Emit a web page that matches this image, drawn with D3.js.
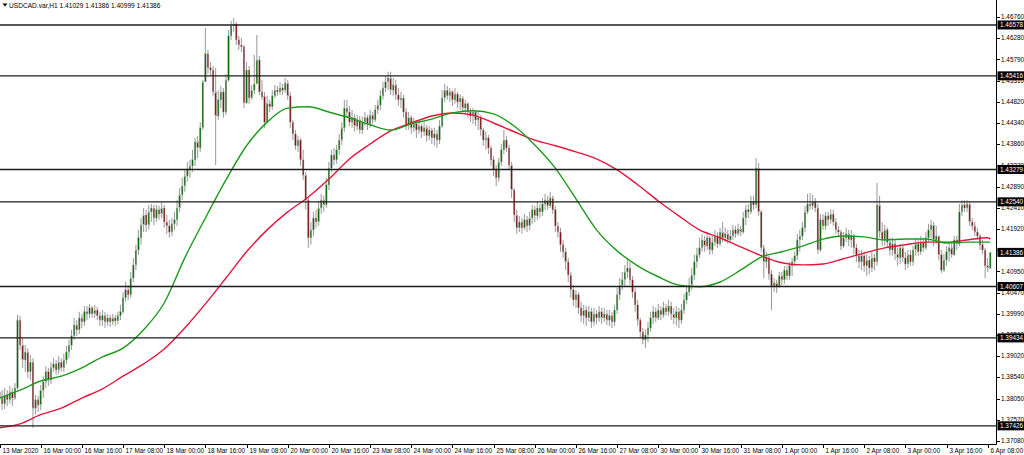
<!DOCTYPE html>
<html><head><meta charset="utf-8">
<script src="https://cdn.jsdelivr.net/npm/d3@7"></script>
<style>body{margin:0;background:#fff}svg{display:block}</style>
</head><body>
<svg id="c" width="1024" height="455"></svg>
<script>
const symbolTitle = "USDCAD.var,H1  1.41029 1.41386 1.40999 1.41386";
const timeLabels = ["13 Mar 2020","16 Mar 00:00","16 Mar 16:00","17 Mar 08:00","18 Mar 00:00","18 Mar 16:00","19 Mar 08:00","20 Mar 00:00","20 Mar 16:00","23 Mar 08:00","24 Mar 00:00","24 Mar 16:00","25 Mar 08:00","26 Mar 00:00","26 Mar 16:00","27 Mar 08:00","30 Mar 00:00","30 Mar 16:00","31 Mar 08:00","1 Apr 00:00","1 Apr 16:00","2 Apr 08:00","3 Apr 00:00","3 Apr 16:00","6 Apr 08:00"];
const barsPerLabel = 16;
const priceTicks = ["1.46760","1.46280","1.45790","1.45310","1.44820","1.44340","1.43860","1.43370","1.42890","1.42410","1.41920","1.41440","1.40950","1.40470","1.39990","1.39500","1.39020","1.38540","1.38050","1.37570","1.37080"];
const levels = [1.46578,1.45416,1.43279,1.42540,1.40607,1.39434,1.37426];
const lastPrice = 1.41386;
const firstOpen = 1.3820;
const closes = [
1.3806,1.3793,1.3813,1.3802,1.3820,1.3806,1.3829,1.3984,1.3927,1.3893,
1.3911,1.3866,1.3888,1.3783,1.3802,1.3790,1.3824,1.3843,1.3866,1.3847,
1.3875,1.3884,1.3870,1.3888,1.3875,1.3893,1.3911,1.3927,1.3948,1.3973,
1.3962,1.3989,1.3980,1.4003,1.3998,1.4012,1.3998,1.4007,1.3994,1.3984,
1.3994,1.3980,1.3989,1.3980,1.3989,1.3982,1.3994,1.4003,1.4035,1.4053,
1.4042,1.4080,1.4110,1.4144,1.4172,1.4201,1.4224,1.4201,1.4231,1.4240,
1.4217,1.4236,1.4226,1.4240,1.4208,1.4199,1.4185,1.4204,1.4213,1.4240,
1.4270,1.4290,1.4313,1.4327,1.4336,1.4350,1.4391,1.4377,1.4423,1.4528,
1.4592,1.4560,1.4555,1.4505,1.4450,1.4487,1.4505,1.4459,1.4532,1.4633,
1.4656,1.4660,1.4624,1.4612,1.4608,1.4480,1.4555,1.4491,1.4509,1.4523,
1.4578,1.4505,1.4494,1.4436,1.4478,1.4471,1.4496,1.4509,1.4505,1.4514,
1.4509,1.4525,1.4496,1.4436,1.4409,1.4382,1.4395,1.4350,1.4315,1.4258,
1.4172,1.4190,1.4217,1.4208,1.4240,1.4258,1.4247,1.4293,1.4331,1.4361,
1.4350,1.4373,1.4395,1.4423,1.4468,1.4459,1.4436,1.4446,1.4427,1.4441,
1.4418,1.4436,1.4446,1.4432,1.4452,1.4441,1.4464,1.4475,1.4496,1.4514,
1.4528,1.4537,1.4509,1.4521,1.4498,1.4487,1.4491,1.4459,1.4430,1.4446,
1.4423,1.4432,1.4418,1.4427,1.4414,1.4423,1.4405,1.4418,1.4400,1.4409,
1.4395,1.4427,1.4491,1.4509,1.4496,1.4505,1.4487,1.4500,1.4482,1.4491,
1.4468,1.4478,1.4459,1.4450,1.4459,1.4441,1.4446,1.4418,1.4395,1.4400,
1.4377,1.4350,1.4327,1.4309,1.4345,1.4373,1.4395,1.4377,1.4338,1.4281,
1.4224,1.4195,1.4208,1.4195,1.4213,1.4199,1.4217,1.4236,1.4222,1.4240,
1.4231,1.4249,1.4258,1.4245,1.4263,1.4236,1.4199,1.4185,1.4156,1.4140,
1.4117,1.4087,1.4053,1.4030,1.4042,1.4012,1.3994,1.4007,1.3989,1.4003,
1.3980,1.3998,1.3989,1.4003,1.3989,1.3998,1.3984,1.3994,1.3980,1.4007,
1.4042,1.4064,1.4076,1.4094,1.4103,1.4076,1.4048,1.4019,1.3984,1.3957,
1.3939,1.3950,1.3966,1.3989,1.4003,1.3989,1.4007,1.3996,1.4012,1.4003,
1.4016,1.3998,1.3989,1.4003,1.3984,1.4007,1.4030,1.4048,1.4064,1.4087,
1.4117,1.4133,1.4149,1.4167,1.4153,1.4172,1.4144,1.4162,1.4176,1.4158,
1.4185,1.4172,1.4181,1.4167,1.4176,1.4190,1.4181,1.4192,1.4185,1.4217,
1.4236,1.4231,1.4254,1.4247,1.4331,1.4231,1.4149,1.4117,1.4126,1.4089,
1.4062,1.4069,1.4060,1.4085,1.4076,1.4098,1.4085,1.4108,1.4117,1.4131,
1.4167,1.4176,1.4195,1.4231,1.4249,1.4245,1.4254,1.4240,1.4144,1.4213,
1.4199,1.4222,1.4213,1.4226,1.4208,1.4190,1.4185,1.4153,1.4172,1.4181,
1.4167,1.4176,1.4149,1.4131,1.4117,1.4131,1.4108,1.4121,1.4103,1.4126,
1.4117,1.4247,1.4185,1.4167,1.4190,1.4162,1.4144,1.4158,1.4135,1.4126,
1.4149,1.4126,1.4112,1.4133,1.4117,1.4144,1.4158,1.4140,1.4162,1.4149,
1.4172,1.4190,1.4201,1.4167,1.4176,1.4133,1.4098,1.4121,1.4140,1.4149,
1.4133,1.4167,1.4158,1.4231,1.4247,1.4240,1.4249,1.4208,1.4199,1.4185,
1.4176,1.4156,1.4144,1.4108,1.41029,1.41386];
const highs = [
1.3820,1.3824,1.3829,1.3824,1.3834,1.3829,1.3840,1.3996,1.3994,1.3943,
1.3927,1.3920,1.3904,1.3897,1.3813,1.3811,1.3836,1.3856,1.3879,1.3875,
1.3888,1.3897,1.3893,1.3902,1.3897,1.3907,1.3925,1.3939,1.3962,1.3989,
1.3984,1.4003,1.3998,1.4016,1.4016,1.4021,1.4016,1.4019,1.4014,1.4003,
1.4007,1.4003,1.3998,1.3996,1.3998,1.3996,1.4003,1.4019,1.4048,1.4071,
1.4064,1.4094,1.4126,1.4156,1.4190,1.4217,1.4240,1.4236,1.4247,1.4249,
1.4247,1.4247,1.4245,1.4252,1.4247,1.4224,1.4213,1.4217,1.4231,1.4258,
1.4286,1.4309,1.4327,1.4345,1.4350,1.4373,1.4400,1.4405,1.4436,1.4532,
1.4651,1.4601,1.4573,1.4564,1.4560,1.4509,1.4519,1.4514,1.4546,1.4646,
1.4667,1.4674,1.4665,1.4633,1.4628,1.4612,1.4573,1.4564,1.4521,1.4589,
1.4635,1.4587,1.4532,1.4505,1.4496,1.4487,1.4509,1.4521,1.4519,1.4528,
1.4523,1.4537,1.4532,1.4505,1.4441,1.4418,1.4405,1.4400,1.4373,1.4322,
1.4263,1.4208,1.4231,1.4236,1.4254,1.4272,1.4268,1.4309,1.4345,1.4373,
1.4377,1.4384,1.4409,1.4436,1.4487,1.4487,1.4473,1.4464,1.4455,1.4452,
1.4450,1.4448,1.4459,1.4452,1.4464,1.4459,1.4475,1.4487,1.4509,1.4528,
1.4541,1.4551,1.4551,1.4537,1.4532,1.4514,1.4505,1.4498,1.4468,1.4459,
1.4452,1.4446,1.4441,1.4441,1.4432,1.4436,1.4430,1.4427,1.4423,1.4423,
1.4418,1.4441,1.4509,1.4523,1.4519,1.4514,1.4509,1.4514,1.4505,1.4500,
1.4496,1.4487,1.4482,1.4468,1.4468,1.4464,1.4459,1.4452,1.4423,1.4414,
1.4407,1.4382,1.4359,1.4338,1.4354,1.4386,1.4418,1.4405,1.4384,1.4345,
1.4286,1.4236,1.4222,1.4217,1.4226,1.4222,1.4231,1.4247,1.4245,1.4254,
1.4249,1.4263,1.4272,1.4268,1.4277,1.4268,1.4245,1.4208,1.4195,1.4167,
1.4149,1.4126,1.4094,1.4064,1.4053,1.4048,1.4026,1.4019,1.4016,1.4016,
1.4012,1.4012,1.4007,1.4016,1.4012,1.4012,1.4007,1.4007,1.4003,1.4019,
1.4058,1.4080,1.4094,1.4110,1.4126,1.4117,1.4085,1.4058,1.4030,1.3989,
1.3966,1.3962,1.3980,1.4003,1.4016,1.4012,1.4021,1.4016,1.4026,1.4021,
1.4030,1.4026,1.4012,1.4016,1.4012,1.4021,1.4044,1.4062,1.4080,1.4103,
1.4133,1.4149,1.4172,1.4181,1.4176,1.4185,1.4176,1.4176,1.4190,1.4185,
1.4195,1.4208,1.4195,1.4190,1.4190,1.4201,1.4199,1.4204,1.4199,1.4231,
1.4247,1.4249,1.4268,1.4268,1.4354,1.4343,1.4236,1.4156,1.4140,1.4131,
1.4098,1.4080,1.4076,1.4094,1.4094,1.4108,1.4108,1.4117,1.4126,1.4140,
1.4181,1.4190,1.4208,1.4245,1.4272,1.4274,1.4270,1.4263,1.4249,1.4226,
1.4226,1.4231,1.4231,1.4236,1.4236,1.4217,1.4199,1.4190,1.4185,1.4195,
1.4190,1.4190,1.4181,1.4158,1.4144,1.4144,1.4140,1.4135,1.4131,1.4140,
1.4135,1.4297,1.4268,1.4208,1.4201,1.4195,1.4172,1.4172,1.4167,1.4149,
1.4158,1.4153,1.4140,1.4144,1.4144,1.4153,1.4172,1.4167,1.4176,1.4172,
1.4185,1.4204,1.4213,1.4208,1.4199,1.4176,1.4144,1.4135,1.4153,1.4162,
1.4160,1.4176,1.4176,1.4249,1.4258,1.4258,1.4258,1.4254,1.4217,1.4208,
1.4195,1.4181,1.4167,1.4149,1.4126,1.41386];
const lows = [
1.3783,1.3779,1.3781,1.3788,1.3793,1.3788,1.3802,1.3824,1.3916,1.3875,
1.3866,1.3852,1.3847,1.3738,1.3768,1.3774,1.3779,1.3806,1.3829,1.3834,
1.3838,1.3866,1.3859,1.3861,1.3866,1.3866,1.3884,1.3897,1.3916,1.3939,
1.3948,1.3952,1.3966,1.3971,1.3984,1.3989,1.3989,1.3989,1.3984,1.3971,
1.3971,1.3966,1.3971,1.3968,1.3973,1.3971,1.3975,1.3984,1.3998,1.4026,
1.4030,1.4035,1.4071,1.4098,1.4133,1.4156,1.4185,1.4185,1.4190,1.4208,
1.4201,1.4208,1.4213,1.4217,1.4195,1.4181,1.4172,1.4176,1.4190,1.4199,
1.4231,1.4258,1.4277,1.4300,1.4309,1.4322,1.4336,1.4354,1.4368,1.4418,
1.4544,1.4546,1.4541,1.4496,1.4338,1.4441,1.4468,1.4446,1.4452,1.4528,
1.4624,1.4642,1.4612,1.4601,1.4596,1.4468,1.4478,1.4478,1.4487,1.4500,
1.4541,1.4498,1.4487,1.4423,1.4459,1.4459,1.4464,1.4491,1.4496,1.4498,
1.4498,1.4503,1.4487,1.4423,1.4395,1.4373,1.4368,1.4336,1.4304,1.4236,
1.4149,1.4156,1.4176,1.4195,1.4199,1.4226,1.4231,1.4240,1.4281,1.4322,
1.4338,1.4341,1.4361,1.4384,1.4414,1.4446,1.4427,1.4423,1.4414,1.4418,
1.4409,1.4409,1.4427,1.4418,1.4423,1.4432,1.4436,1.4455,1.4464,1.4487,
1.4505,1.4509,1.4498,1.4496,1.4487,1.4473,1.4468,1.4446,1.4418,1.4418,
1.4409,1.4414,1.4400,1.4409,1.4400,1.4405,1.4391,1.4395,1.4386,1.4382,
1.4377,1.4386,1.4423,1.4482,1.4487,1.4482,1.4473,1.4478,1.4468,1.4464,
1.4459,1.4455,1.4446,1.4436,1.4432,1.4427,1.4418,1.4405,1.4382,1.4373,
1.4363,1.4336,1.4313,1.4290,1.4300,1.4336,1.4363,1.4368,1.4327,1.4263,
1.4208,1.4181,1.4185,1.4181,1.4190,1.4185,1.4190,1.4204,1.4208,1.4213,
1.4217,1.4222,1.4236,1.4236,1.4240,1.4226,1.4185,1.4172,1.4140,1.4126,
1.4098,1.4071,1.4035,1.4016,1.4012,1.3998,1.3980,1.3975,1.3971,1.3980,
1.3966,1.3971,1.3975,1.3980,1.3975,1.3980,1.3973,1.3971,1.3966,1.3971,
1.3998,1.4030,1.4053,1.4062,1.4080,1.4064,1.4035,1.4003,1.3971,1.3943,
1.3929,1.3920,1.3934,1.3957,1.3975,1.3980,1.3984,1.3984,1.3989,1.3994,
1.3994,1.3984,1.3975,1.3971,1.3966,1.3975,1.3998,1.4021,1.4039,1.4053,
1.4076,1.4103,1.4126,1.4140,1.4140,1.4144,1.4133,1.4135,1.4153,1.4149,
1.4153,1.4162,1.4162,1.4158,1.4160,1.4167,1.4172,1.4176,1.4176,1.4181,
1.4201,1.4217,1.4226,1.4236,1.4240,1.4222,1.4140,1.4080,1.4103,1.4076,
1.4007,1.4048,1.4046,1.4058,1.4064,1.4067,1.4076,1.4076,1.4085,1.4108,
1.4121,1.4140,1.4167,1.4185,1.4226,1.4236,1.4236,1.4231,1.4135,1.4140,
1.4190,1.4190,1.4199,1.4204,1.4199,1.4181,1.4176,1.4144,1.4149,1.4162,
1.4153,1.4149,1.4135,1.4117,1.4103,1.4098,1.4094,1.4085,1.4089,1.4094,
1.4098,1.4108,1.4172,1.4153,1.4153,1.4149,1.4131,1.4131,1.4121,1.4108,
1.4112,1.4117,1.4098,1.4103,1.4108,1.4108,1.4131,1.4131,1.4133,1.4140,
1.4144,1.4162,1.4172,1.4153,1.4158,1.4121,1.4092,1.4094,1.4108,1.4117,
1.4126,1.4131,1.4144,1.4153,1.4222,1.4231,1.4231,1.4199,1.4190,1.4176,
1.4167,1.4144,1.4135,1.4080,1.4094,1.40999];
// moving averages sampled every 8 bars (last sample = last bar)
const maStep = 8;
const maGreen = [1.3806,1.3824,1.3845,1.3856,1.3875,1.3900,1.3920,1.3962,1.4023,1.4126,
1.4217,1.4304,1.4382,1.4436,1.4468,1.4471,1.4459,1.4446,1.4430,1.4418,
1.4432,1.4443,1.4457,1.4462,1.4455,1.4427,1.4384,1.4331,1.4261,1.4190,
1.4142,1.4108,1.4083,1.4064,1.4060,1.4071,1.4098,1.4128,1.4140,1.4153,
1.4169,1.4176,1.4174,1.4167,1.4169,1.4169,1.4160,1.4162,1.4162,1.4162];
const maRed = [1.3738,1.3747,1.3768,1.3783,1.3806,1.3827,1.3856,1.3884,1.3918,1.3966,
1.4021,1.4080,1.4140,1.4190,1.4231,1.4265,1.4306,1.4352,1.4386,1.4416,
1.4434,1.4450,1.4457,1.4452,1.4434,1.4414,1.4395,1.4382,1.4368,1.4352,
1.4327,1.4293,1.4256,1.4222,1.4190,1.4172,1.4151,1.4131,1.4115,1.4110,
1.4112,1.4124,1.4137,1.4149,1.4156,1.4162,1.4162,1.4167,1.4172,1.4169];

const svg = d3.select("#c");
const W = 1024, H = 455, plotR = 996, plotB = 444;
const font = "'Liberation Sans', Arial, sans-serif";
const fs = 6.4;
const n = closes.length;
const x = d3.scaleLinear().domain([0, n - 1]).range([-0.5, -0.5 + 2.5734 * (n - 1)]);
const y = d3.scaleLinear().domain([1.37080, 1.46760]).range([441, 17]);

svg.append("rect").attr("width", W).attr("height", H).attr("fill", "#fff");
const defs = svg.append("defs");
defs.append("clipPath").attr("id", "plot").append("rect")
  .attr("x", 0).attr("y", 0).attr("width", plotR).attr("height", plotB);

const g = svg.append("g").attr("clip-path", "url(#plot)");
const bars = closes.map((c, i) => ({ i, o: i === 0 ? firstOpen : closes[i - 1], c, h: highs[i], l: lows[i] }));

g.append("g").selectAll("line").data(bars).join("line")
  .attr("x1", d => x(d.i)).attr("x2", d => x(d.i))
  .attr("y1", d => y(Math.max(d.h, d.o, d.c))).attr("y2", d => y(Math.min(d.l, d.o, d.c)))
  .attr("stroke", "#8c8c8c").attr("stroke-width", 0.9);

g.append("g").selectAll("rect").data(bars).join("rect")
  .attr("x", d => x(d.i) - 0.8).attr("width", 1.6)
  .attr("y", d => y(Math.max(d.o, d.c)))
  .attr("height", d => Math.max(0.8, Math.abs(y(d.o) - y(d.c))))
  .attr("fill", d => d.c >= d.o ? "#0b6b0b" : "#7d1414")
  .attr("stroke", "#b4b4b4").attr("stroke-width", 0.4);

const maLine = d3.line().x((d, k) => x(Math.min(k * maStep, n - 1))).y(d => y(d)).curve(d3.curveMonotoneX);
g.append("path").attr("d", maLine(maRed)).attr("fill", "none").attr("stroke", "#e3173e").attr("stroke-width", 1.4);
g.append("path").attr("d", maLine(maGreen)).attr("fill", "none").attr("stroke", "#1d9a1d").attr("stroke-width", 1.4);

g.append("g").selectAll("line").data(levels).join("line")
  .attr("x1", 0).attr("x2", plotR).attr("y1", d => y(d)).attr("y2", d => y(d))
  .attr("stroke", "#1e1e1e").attr("stroke-width", 1.4);

// axes frame
svg.append("line").attr("x1", plotR + 0.5).attr("x2", plotR + 0.5).attr("y1", 0).attr("y2", plotB + 0.5)
  .attr("stroke", "#000").attr("stroke-width", 1);
svg.append("line").attr("x1", 0).attr("x2", plotR + 0.5).attr("y1", plotB + 0.5).attr("y2", plotB + 0.5)
  .attr("stroke", "#000").attr("stroke-width", 1);

// price axis
const boxed = [...levels, lastPrice];
const pt = svg.append("g");
priceTicks.forEach((t, k) => {
  const yy = y(+t);
  pt.append("line").attr("x1", plotR + 1).attr("x2", plotR + 4).attr("y1", Math.round(yy) + 0.5).attr("y2", Math.round(yy) + 0.5).attr("stroke", "#000");
  const base = yy + 2.2, top = base - 4.7;
  // part of the label that a boxed price covers stays hidden, as in the terminal
  const cover = boxed.map(v => y(v)).find(by => by - 4.5 < base + 1 && by + 4.5 > top);
  let clip = null;
  if (cover !== undefined) {
    let c0, c1;
    if (cover > yy) { c0 = top - 1; c1 = cover - 4.5; } else { c0 = cover + 4.5; c1 = base + 2; }
    if (c1 - Math.max(c0, top) < 0.6) return;
    clip = "tk" + k;
    defs.append("clipPath").attr("id", clip).append("rect").attr("x", 998).attr("y", c0).attr("width", 26).attr("height", c1 - c0);
  }
  const tx = pt.append("text").attr("x", 1001).attr("y", base).attr("font-family", font).attr("font-size", fs).attr("fill", "#000").text(t);
  if (clip) tx.attr("clip-path", `url(#${clip})`);
});
boxed.forEach(v => {
  const yy = y(v);
  pt.append("rect").attr("x", 997.5).attr("y", yy - 4.5).attr("width", 26.5).attr("height", 9).attr("fill", "#000");
  pt.append("text").attr("x", 1000).attr("y", yy + 2.3).attr("font-family", font).attr("font-size", fs).attr("fill", "#fff").text(v.toFixed(5));
});

// time axis
const tg = svg.append("g");
timeLabels.forEach((t, k) => {
  const xx = Math.round(x(k * barsPerLabel)) + 0.5;
  tg.append("line").attr("x1", xx).attr("x2", xx).attr("y1", plotB).attr("y2", plotB + 4).attr("stroke", "#000");
  tg.append("text").attr("x", xx + 2).attr("y", 452.5).attr("font-family", font).attr("font-size", fs).attr("fill", "#000").text(t);
});

// title
svg.append("path").attr("d", "M2.5,3.5 L7.5,3.5 L5,6.5 Z").attr("fill", "#000");
svg.append("text").attr("x", 9).attr("y", 7.5).attr("font-family", font).attr("font-size", 6.6).attr("fill", "#000").text(symbolTitle);
</script>
</body></html>
